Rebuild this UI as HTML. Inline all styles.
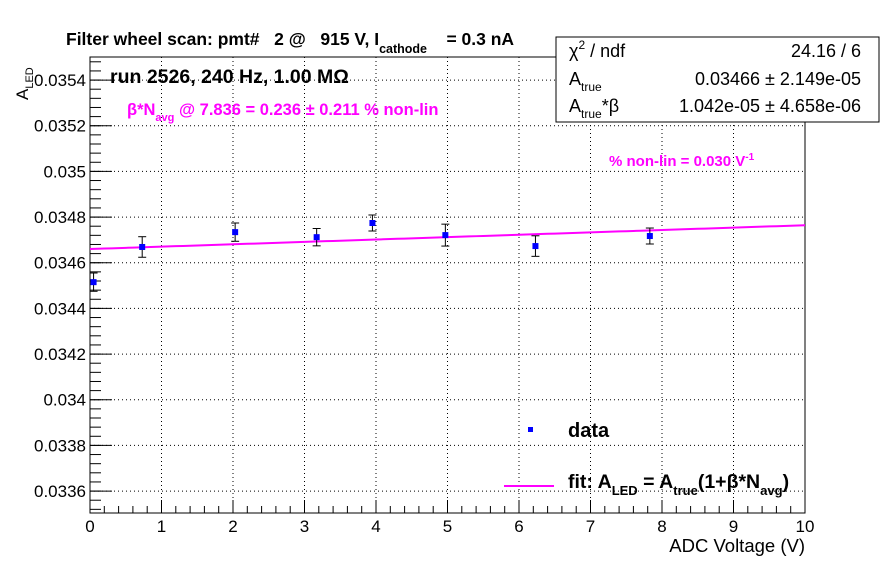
<!DOCTYPE html>
<html><head><meta charset="utf-8"><style>
body{margin:0;background:#fff}
svg{display:block;font-family:"Liberation Sans",sans-serif}
</style></head><body>
<svg width="896" height="572" viewBox="0 0 896 572" id="chart">
<rect width="896" height="572" fill="#fff"/>
<g id="grid"></g>
<g id="axes"></g>
<g id="fit"></g>
<g id="points"></g>
<text x="66" y="45" font-size="17.5" font-weight="bold" style="white-space:pre">Filter wheel scan: pmt#   2 @   915 V, I<tspan font-size="12.5" dy="8">cathode</tspan><tspan dy="-8">    = 0.3 nA</tspan></text>
<text x="110" y="83" font-size="19.5" font-weight="bold">run 2526, 240 Hz, 1.00 MΩ</text>
<text x="127" y="115" font-size="16.5" font-weight="bold" fill="#ff00ff">β*N<tspan font-size="11" dy="6">avg</tspan><tspan dy="-6"> @ 7.836 = 0.236 ± 0.211 % non-lin</tspan></text>
<text x="609" y="166" font-size="15" font-weight="bold" fill="#ff00ff">% non-lin = 0.030 V<tspan font-size="10" dy="-6">-1</tspan></text>
<text transform="translate(28,100) rotate(-90)" font-size="17">A<tspan font-size="11" dy="5">LED</tspan></text>
<text x="805" y="552" font-size="18.5" text-anchor="end">ADC Voltage (V)</text>
<g>
<rect x="556" y="37" width="323" height="85" fill="#fff" stroke="#000" stroke-width="1"/>
<text x="569" y="57" font-size="18">χ<tspan font-size="12" dy="-8">2</tspan><tspan dy="8"> / ndf</tspan></text>
<text x="861" y="57" font-size="18" text-anchor="end">24.16 / 6</text>
<text x="569" y="85" font-size="18">A<tspan font-size="12" dy="6">true</tspan></text>
<text x="861" y="85" font-size="18" text-anchor="end">0.03466 ± 2.149e-05</text>
<text x="569" y="112" font-size="18">A<tspan font-size="12" dy="6">true</tspan><tspan dy="-6">*β</tspan></text>
<text x="861" y="112" font-size="18" text-anchor="end">1.042e-05 ± 4.658e-06</text>
</g>
<g>
<rect x="528" y="427" width="5" height="5" fill="#0000ff"/>
<text x="568" y="437" font-size="20" font-weight="bold">data</text>
<line x1="504" y1="486" x2="554" y2="486" stroke="#ff00ff" stroke-width="2"/>
<text x="568" y="488" font-size="19.5" font-weight="bold">fit: A<tspan font-size="13" dy="7">LED</tspan><tspan dy="-7"> = A</tspan><tspan font-size="13" dy="7">true</tspan><tspan dy="-7">(1+β*N</tspan><tspan font-size="13" dy="7">avg</tspan><tspan dy="-7">)</tspan></text>
</g>
</svg>
<script>
const xVals=[0.05,0.73,2.03,3.17,3.95,4.97,6.23,7.83];
const yVals=[0.034515,0.034669,0.034734,0.034712,0.034774,0.034721,0.034673,0.034717];
const yErr=[0.000040,0.000045,0.000040,0.000038,0.000035,0.000048,0.000045,0.000035];
const fitA=0.03466, fitB=1.042e-05;
const xTicks=[0,1,2,3,4,5,6,7,8,9,10];
const yTicks=[0.0336,0.0338,0.034,0.0342,0.0344,0.0346,0.0348,0.035,0.0352,0.0354];
const L=90,R=805,T=57,B=513;
const xMin=0,xMax=10,yMin=0.033504,yMax=0.035501;
const NS="http://www.w3.org/2000/svg";
const sx=v=>L+(v-xMin)/(xMax-xMin)*(R-L);
const sy=v=>B-(v-yMin)/(yMax-yMin)*(B-T);
function mk(t,a,p){const e=document.createElementNS(NS,t);for(const k in a)e.setAttribute(k,a[k]);p.appendChild(e);return e;}
const grid=document.getElementById('grid'),axes=document.getElementById('axes');
xTicks.forEach(t=>{
 if(t>0&&t<10){const g=mk('line',{x1:sx(t),x2:sx(t),y1:T,y2:B,stroke:'#000','stroke-width':1,'stroke-dasharray':'1,3'},grid);
 
 }
 const tk=mk('line',{x1:sx(t),x2:sx(t),y1:B,y2:B-13,stroke:'#000'},axes);
 
 
 const lb=mk('text',{x:sx(t),y:B+19,'font-size':17,'text-anchor':'middle'},axes);lb.textContent=t;
 
 
});
for(let i=0;i<50;i++){const v=i*0.2;if(i%5)mk('line',{x1:sx(v),x2:sx(v),y1:B,y2:B-7,stroke:'#000'},axes);}
yTicks.forEach(t=>{
 const g=mk('line',{x1:L,x2:R,y1:sy(t),y2:sy(t),stroke:'#000','stroke-width':1,'stroke-dasharray':'1,3'},grid);
 
 
 mk('line',{x1:L,x2:L+22,y1:sy(t),y2:sy(t),stroke:'#000'},axes);
 const lb=mk('text',{x:L-4,y:sy(t)+6,'font-size':17,'text-anchor':'end'},axes);lb.textContent=String(t);
 
 
});
for(let v=0.03352;v<0.03550;v+=0.00004){const y=sy(v);if(y>=T&&y<=B)mk('line',{x1:L,x2:L+11,y1:y,y2:y,stroke:'#000'},axes);}
const fr=mk('rect',{x:L,y:T,width:R-L,height:B-T,fill:'none',stroke:'#000'},axes);


const fit=document.getElementById('fit');
let d='';for(let i=0;i<=100;i++){const x=i/10;d+=(i?'L':'M')+sx(x)+','+sy(fitA+fitB*x);}
const fl=mk('path',{d:d,fill:'none',stroke:'#ff00ff','stroke-width':2},fit);


const pts=document.getElementById('points');
xVals.forEach((x,i)=>{
 const g=mk('g',{},pts);
 
 
 const cx=sx(x),y1=sy(yVals[i]+yErr[i]),y2=sy(yVals[i]-yErr[i]);
 mk('line',{x1:cx,x2:cx,y1:y1,y2:y2,stroke:'#000'},g);
 mk('line',{x1:cx-4,x2:cx+4,y1:y1,y2:y1,stroke:'#000'},g);
 mk('line',{x1:cx-4,x2:cx+4,y1:y2,y2:y2,stroke:'#000'},g);
 mk('rect',{x:cx-3,y:sy(yVals[i])-3,width:6,height:6,fill:'#0000ff'},g);
});
</script>
</body></html>
